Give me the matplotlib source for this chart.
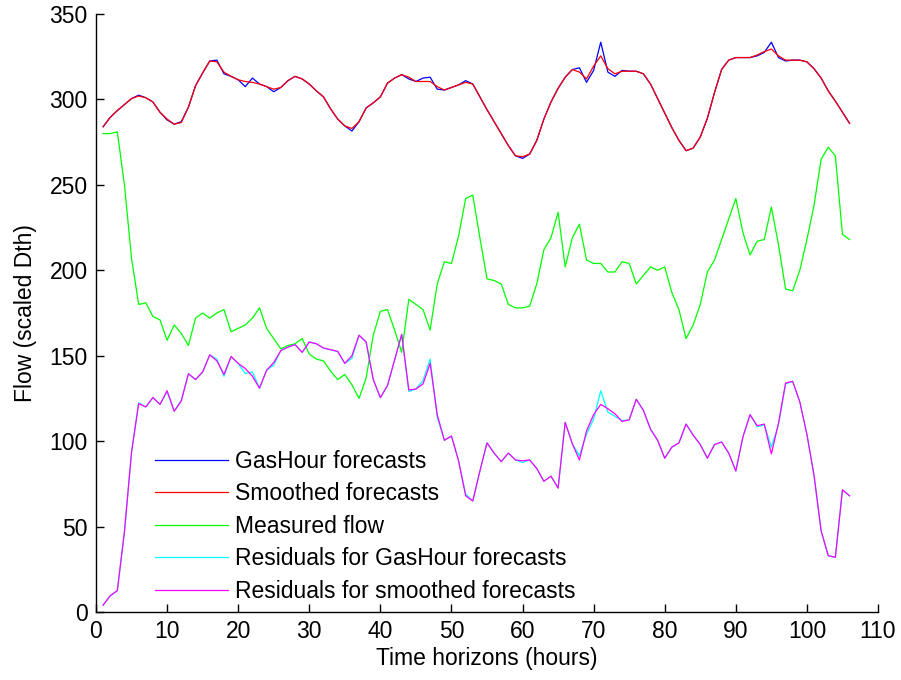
import matplotlib
matplotlib.use("Agg")
from matplotlib import pyplot as plt
import numpy as np

# hourly horizons 1..106
hours = np.arange(1, 107)

gashour = [284, 289.5, 293.5, 297, 300.5, 302.5, 301, 298.5, 292.5, 288,
           285.5, 287, 295.5, 308, 315.5, 322.5, 323, 315, 313.5, 311.5,
           307.5, 312.5, 309, 307.5, 304.5, 307, 311, 313.5, 312, 309,
           305, 301.5, 294.5, 288.5, 284.5, 281.5, 287, 295, 298, 301.5,
           309.5, 312.5, 314.5, 312, 310.5, 312.5, 313, 306, 305.5, 307,
           308.5, 311, 309, 301.5, 294, 287, 280, 273, 267, 265.5,
           268, 276, 288.5, 298.5, 306.5, 313, 317.5, 318.5, 310, 317,
           333.5, 316, 313.5, 317, 316.5, 316.5, 315, 309, 300.5, 292,
           283.5, 276, 270, 271.5, 278, 289, 304, 317.5, 323, 324.5,
           324.5, 324.5, 325.5, 327.5, 333.5, 324.5, 322.5, 323, 323, 322,
           318, 312.5, 305, 299, 292.5, 286]

smoothed = [284, 289.5, 293.5, 297, 300.5, 302, 301, 298.5, 292.5, 288.5,
            285.5, 286.5, 295.5, 308, 315.5, 322.5, 322, 316, 313.5, 311.5,
            310.5, 310, 309, 307.5, 306, 307, 311, 313.5, 312, 309,
            305, 301.5, 294.5, 288.5, 284.5, 283, 287, 295, 298, 301.5,
            309.5, 312.5, 314.5, 313, 310.5, 310.5, 310.5, 307.5, 305.5, 307,
            308.5, 310, 309, 301.5, 294, 287, 280, 273, 267, 266.5,
            268, 276, 288.5, 298.5, 306.5, 313, 317.5, 316, 312, 319.5,
            325.5, 318, 315, 316.5, 316.5, 316.5, 315, 309, 300.5, 292,
            283.5, 276, 270, 271.5, 278, 289, 304, 317.5, 323, 324.5,
            324.5, 324.5, 326, 328, 329.5, 325.5, 323, 323, 323, 322,
            318, 312.5, 305, 299, 292.5, 286]

measured = [280, 280, 281, 250, 207, 180, 181, 173, 171, 159,
            168, 163, 156, 172, 175, 172, 175, 177, 164, 166,
            168, 172, 178, 166, 160, 154, 156, 157, 160, 151,
            148, 147, 141, 136, 139, 133, 125, 137, 162, 176,
            177, 165, 152, 183, 180, 177, 165, 192, 205, 204,
            220, 242, 244, 219, 195, 194, 192, 180, 178, 178,
            179, 192, 212, 219, 234, 202, 219, 227, 206, 204,
            204, 199, 199, 205, 204, 192, 197, 202, 200, 202,
            187, 177, 160, 168, 180, 199, 206, 218, 230, 242,
            222, 209, 217, 218, 237, 215, 189, 188, 200, 218,
            238, 265, 272, 267, 221, 218]

resid_gashour = [4, 9.5, 12.5, 47, 93.5, 122.5, 120, 125.5, 121.5, 129,
                 117.5, 124, 139.5, 136, 140.5, 150.5, 148, 138, 149.5, 145.5,
                 139.5, 140.5, 131, 141.5, 144.5, 153, 155, 156.5, 152, 158,
                 157, 154.5, 153.5, 152.5, 145.5, 148.5, 162, 158, 136, 125.5,
                 132.5, 147.5, 162.5, 129, 130.5, 135.5, 148, 114, 100.5, 103,
                 88.5, 69, 65, 82.5, 99, 93, 88, 93, 89, 87.5,
                 89, 84, 76.5, 79.5, 72.5, 111, 98.5, 91.5, 104, 113,
                 129.5, 117, 114.5, 112, 112.5, 124.5, 118, 107, 100.5, 90,
                 96.5, 99, 110, 103.5, 98, 90, 98, 99.5, 93, 82.5,
                 102.5, 115.5, 108.5, 109.5, 96.5, 109.5, 133.5, 135, 123, 104,
                 80, 47.5, 33, 32, 71.5, 68]

resid_smoothed = [4, 9.5, 12.5, 47, 93.5, 122, 120, 125.5, 121.5, 129.5,
                  117.5, 123.5, 139.5, 136, 140.5, 150.5, 147, 139, 149.5, 145.5,
                  142.5, 138, 131, 141.5, 146, 153, 155, 156.5, 152, 158,
                  157, 154.5, 153.5, 152.5, 145.5, 150, 162, 158, 136, 125.5,
                  132.5, 147.5, 162.5, 130, 130.5, 133.5, 145.5, 115.5, 100.5, 103,
                  88.5, 68, 65, 82.5, 99, 93, 88, 93, 89, 88.5,
                  89, 84, 76.5, 79.5, 72.5, 111, 98.5, 89, 106, 115.5,
                  121.5, 119, 116, 111.5, 112.5, 124.5, 118, 107, 100.5, 90,
                  96.5, 99, 110, 103.5, 98, 90, 98, 99.5, 93, 82.5,
                  102.5, 115.5, 109, 110, 92.5, 110.5, 134, 135, 123, 104,
                  80, 47.5, 33, 32, 71.5, 68]

labels = ["GasHour forecasts", "Smoothed forecasts", "Measured flow",
          "Residuals for GasHour forecasts", "Residuals for smoothed forecasts"]
colors = ["#0000ff", "#ff0000", "#00ff00", "#00ffff", "#ff00ff"]

plt.rcParams['font.family'] = ['Liberation Sans', 'DejaVu Sans']
fs = 16.5

fig = plt.figure(figsize=(9.01, 6.8), dpi=100)
ax = fig.add_axes([96/901, 68/680, 782/901, 598/680])

series = [gashour, smoothed, measured, resid_gashour, resid_smoothed]
for vals, c, lab in zip(series, colors, labels):
    ax.plot(hours, vals, color=c, lw=0.9, label=lab)

ax.set_xlim(0, 110)
ax.set_ylim(0, 350)
ax.set_xticks(np.arange(0, 111, 10))
ax.set_yticks(np.arange(0, 351, 50))
ax.spines['top'].set_visible(False)
ax.spines['right'].set_visible(False)
for s in ['left', 'bottom']:
    ax.spines[s].set_linewidth(1.0)
ax.tick_params(direction='in', length=6, width=1.0, labelsize=fs, pad=6,
               top=False, right=False)

ax.set_xlabel("Time horizons (hours)", fontsize=fs, labelpad=3)
ax.set_ylabel("Flow (scaled Dth)", fontsize=fs, labelpad=9)

ax.legend(loc='lower left', bbox_to_anchor=(0.0754, 0.015), frameon=False,
          fontsize=fs, handlelength=3.2, handletextpad=0.3, labelspacing=0.42,
          borderpad=0, borderaxespad=0)

fig.savefig("out.png", dpi=100)
